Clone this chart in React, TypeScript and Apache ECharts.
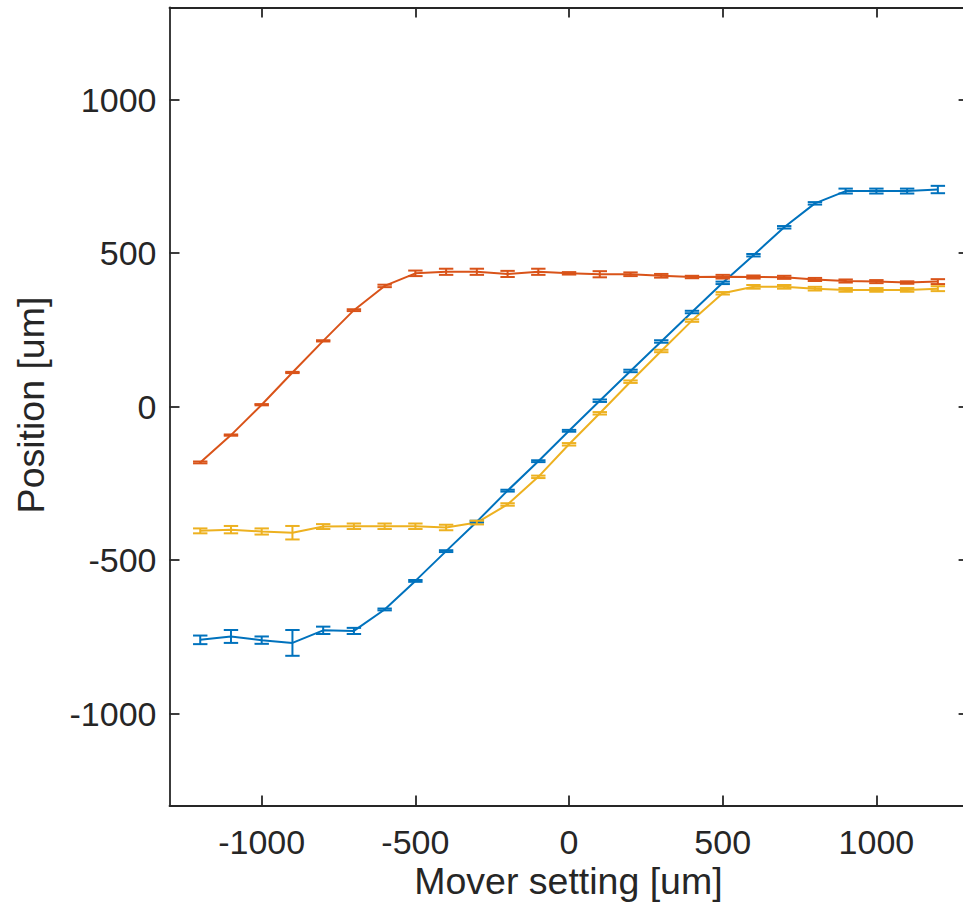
import React, { useEffect, useRef } from "react";
import * as echarts from "echarts";

// Mover setting [um]
const xs = [-1200, -1100, -1000, -900, -800, -700, -600, -500, -400, -300, -200, -100, 0, 100, 200, 300, 400, 500, 600, 700, 800, 900, 1000, 1100, 1200];

// Series 1 (blue)
const blueMean = [-760, -749, -761, -770, -729, -731, -661, -568, -471, -375, -274, -178, -79, 19, 116, 212, 308, 403, 493, 584, 662, 702, 702, 702, 707];
const blueErr = [14, 21, 12, 42, 12, 10, 3, 3, 3, 3, 3, 3, 3, 4, 4, 4, 4, 4, 4, 4, 4, 8, 8, 8, 12];

// Series 2 (red)
const redMean = [-182, -93, 6, 111, 214, 314, 393, 434, 439, 439, 432, 439, 434, 431, 431, 426, 422, 423, 422, 421, 414, 409, 407, 404, 407];
const redErr = [3, 2, 2, 2, 2, 3, 4, 9, 10, 10, 10, 10, 4, 10, 6, 6, 4, 6, 5, 5, 5, 5, 5, 4, 8];

// Series 3 (yellow)
const yellowMean = [-405, -401, -407, -411, -391, -390, -390, -390, -394, -378, -319, -229, -123, -22, 81, 181, 280, 369, 390, 390, 384, 380, 380, 380, 384];
const yellowErr = [8, 12, 10, 22, 8, 9, 9, 9, 9, 6, 4, 4, 4, 4, 4, 4, 4, 4, 6, 6, 6, 6, 6, 6, 8];

const tickValues = [-1000, -500, 0, 500, 1000];

const BLUE = "#0072BD";
const RED = "#D95319";
const YELLOW = "#EDB120";
const AXIS = "#262626";
const FONT = "'Liberation Sans', Arial, Helvetica, sans-serif";

function lineSeries(name: string, mean: number[], color: string) {
  return {
    name,
    type: "line",
    data: xs.map((x, i) => [x, mean[i]]),
    showSymbol: false,
    symbol: "none",
    lineStyle: { color, width: 2 },
    z: 3,
  };
}

function errSeries(name: string, mean: number[], err: number[], color: string) {
  return {
    name: name + " err",
    type: "custom",
    data: xs.map((x, i) => [x, mean[i] - err[i], mean[i] + err[i]]),
    encode: { x: 0, y: [1, 2] },
    z: 4,
    renderItem: (params: any, api: any) => {
      const x = api.value(0);
      const lo = api.coord([x, api.value(1)]);
      const hi = api.coord([x, api.value(2)]);
      const w = 7.2;
      const style = { stroke: color, lineWidth: 2, fill: "none" };
      return {
        type: "group",
        children: [
          { type: "line", shape: { x1: lo[0], y1: lo[1], x2: hi[0], y2: hi[1] }, style },
          { type: "line", shape: { x1: lo[0] - w, y1: lo[1], x2: lo[0] + w, y2: lo[1] }, style },
          { type: "line", shape: { x1: hi[0] - w, y1: hi[1], x2: hi[0] + w, y2: hi[1] }, style },
        ],
      };
    },
  };
}

export default function App() {
  const ref = useRef<HTMLDivElement>(null);
  useEffect(() => {
    if (!ref.current) return;
    const chart = echarts.init(ref.current, undefined, { renderer: "svg" });
    const axisLine = { show: true, onZero: false, lineStyle: { color: AXIS, width: 1.8 } };
    const tick = (show: boolean) => ({
      show,
      inside: true,
      length: 10,
      customValues: tickValues,
      lineStyle: { color: AXIS, width: 1.8 },
    });
    const fmt = (v: number) => String(v);
    chart.setOption({
      animation: false,
      backgroundColor: "#ffffff",
      grid: {
        left: 169.5,
        right: -5.6,
        top: 7.5,
        bottom: 107.4,
        containLabel: false,
        outerBoundsMode: "none",
      },
      xAxis: [
        {
          type: "value",
          min: -1300,
          max: 1300,
          position: "bottom",
          axisLine,
          axisTick: tick(true),
          splitLine: { show: false },
          axisLabel: {
            customValues: tickValues,
            formatter: fmt,
            color: AXIS,
            fontFamily: FONT,
            fontSize: 34,
            lineHeight: 34,
            margin: 19,
            verticalAlign: "top",
          },
        },
        {
          type: "value",
          min: -1300,
          max: 1300,
          position: "top",
          axisLine,
          axisTick: tick(true),
          splitLine: { show: false },
          axisLabel: { show: false },
        },
      ],
      yAxis: [
        {
          type: "value",
          min: -1300,
          max: 1300,
          position: "left",
          axisLine,
          axisTick: tick(true),
          splitLine: { show: false },
          axisLabel: {
            customValues: tickValues,
            formatter: fmt,
            color: AXIS,
            fontFamily: FONT,
            fontSize: 34,
            lineHeight: 34,
            margin: 13,
            verticalAlign: "middle",
            padding: [13, 0, 0, 0],
          },
        },
        {
          type: "value",
          min: -1300,
          max: 1300,
          position: "right",
          axisLine,
          axisTick: tick(true),
          splitLine: { show: false },
          axisLabel: { show: false },
        },
      ],
      graphic: [
        {
          type: "text",
          x: 568.4,
          y: 881,
          style: {
            text: "Mover setting [um]",
            fill: AXIS,
            font: `37.5px ${FONT}`,
            textAlign: "center",
            textVerticalAlign: "middle",
          },
        },
        {
          type: "text",
          x: 31,
          y: 405,
          rotation: Math.PI / 2,
          style: {
            text: "Position [um]",
            fill: AXIS,
            font: `37.5px ${FONT}`,
            textAlign: "center",
            textVerticalAlign: "middle",
          },
        },
      ],
      series: [
        lineSeries("Series 1", blueMean, BLUE),
        errSeries("Series 1", blueMean, blueErr, BLUE),
        lineSeries("Series 2", redMean, RED),
        errSeries("Series 2", redMean, redErr, RED),
        lineSeries("Series 3", yellowMean, YELLOW),
        errSeries("Series 3", yellowMean, yellowErr, YELLOW),
      ],
    });
    return () => chart.dispose();
  }, []);
  return (
    <div
      ref={ref}
      style={{ position: "absolute", left: 0, top: 0, width: 963, height: 913, overflow: "hidden", background: "#fff" }}
    />
  );
}
